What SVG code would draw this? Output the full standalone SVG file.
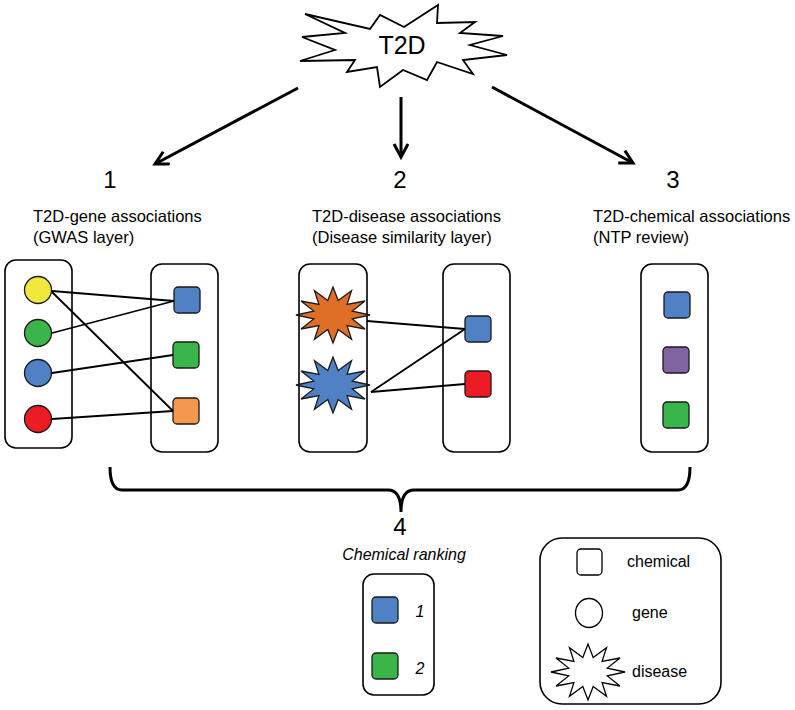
<svg xmlns="http://www.w3.org/2000/svg" width="795" height="710" viewBox="0 0 795 710">
<defs>
<style>
text{font-family:"Liberation Sans",Arial,sans-serif;fill:#000}
.num{font-size:24px;text-anchor:middle}
.hdr{font-size:16.5px}
.box{fill:#fff;stroke:#000;stroke-width:1.6}
.edge{stroke:#000;stroke-width:1.8;fill:none}
.arr{stroke:#000;stroke-width:3;fill:none}
.sq{stroke:#1a1a1a;stroke-width:1.3}
.leg{font-size:16px}
.it{font-style:italic}
</style>
<marker id="ah" markerUnits="userSpaceOnUse" markerWidth="30" markerHeight="30" refX="14" refY="8" orient="auto">
<path d="M1,1 L14,8 L1,15" fill="none" stroke="#000" stroke-width="3"/>
</marker>
<polygon id="star" points="37,0 19.3,3.9 32,14 14.1,10.6 18.5,24.2 5.2,14.5 0,28 -5.2,14.5 -18.5,24.2 -14.1,10.6 -32,14 -19.3,3.9 -37,0 -19.3,-3.9 -32,-14 -14.1,-10.6 -18.5,-24.2 -5.2,-14.5 0,-28 5.2,-14.5 18.5,-24.2 14.1,-10.6 32,-14 19.3,-3.9"/>
</defs>
<rect width="795" height="710" fill="#fff"/>

<g id="t2d">
<polygon points="305,14 370,29 380,15 404,27 438,5 437,23 475,22 460,33 503,36 470,45 507,55 463,60 473,74 437,62 427,80 403,70 380,87 377,67 347,72 355,60 300,61 335,50 302,37 345,33" fill="#fff" stroke="#000" stroke-width="1.8" stroke-linejoin="miter"/>
<text x="402" y="54" font-size="25" text-anchor="middle">T2D</text>
</g>

<g id="labels">
<text class="num" x="110" y="188">1</text>
<text class="num" x="400" y="188">2</text>
<text class="num" x="673" y="188">3</text>
<text class="hdr" x="33" y="222">T2D-gene associations</text>
<text class="hdr" x="33" y="243">(GWAS layer)</text>
<text class="hdr" x="312" y="222">T2D-disease associations</text>
<text class="hdr" x="312" y="243">(Disease similarity layer)</text>
<text class="hdr" x="593" y="222">T2D-chemical associations</text>
<text class="hdr" x="593" y="243">(NTP review)</text>
<text class="num" x="400" y="535">4</text>
<text class="it" x="404" y="560" font-size="16" text-anchor="middle">Chemical ranking</text>
</g>

<g id="genes">
<rect class="box" x="5" y="260" width="67" height="188" rx="11"/>
<circle cx="38" cy="290" r="13.5" fill="#f0e93c" stroke="#1a1a1a" stroke-width="1.3"/>
<circle cx="38" cy="333" r="13.5" fill="#3ab54a" stroke="#1a1a1a" stroke-width="1.3"/>
<circle cx="38" cy="373" r="13.5" fill="#4f81c4" stroke="#1a1a1a" stroke-width="1.3"/>
<circle cx="38" cy="419" r="13.5" fill="#ed1c24" stroke="#1a1a1a" stroke-width="1.3"/>
</g>

<g id="gene-chemicals">
<rect class="box" x="151" y="264" width="67" height="188" rx="11"/>
<rect class="sq" x="174" y="287" width="26" height="26" rx="4" fill="#4f81c4"/>
<rect class="sq" x="173" y="342" width="26" height="26" rx="4" fill="#3ab54a"/>
<rect class="sq" x="173" y="398" width="26" height="26" rx="4" fill="#f3984c"/>
</g>

<g id="diseases">
<rect class="box" x="299" y="264" width="68" height="188" rx="11"/>
<use href="#star" transform="translate(333,315)" fill="#df6f27" stroke="#1a1a1a" stroke-width="1.3"/>
<use href="#star" transform="translate(333,385)" fill="#4f81c4" stroke="#1a1a1a" stroke-width="1.3"/>
</g>

<g id="disease-chemicals">
<rect class="box" x="443" y="264" width="67" height="188" rx="11"/>
<rect class="sq" x="465" y="316" width="26" height="26" rx="4" fill="#4f81c4"/>
<rect class="sq" x="465" y="371" width="26" height="26" rx="4" fill="#ed1c24"/>
</g>

<g id="ntp-chemicals">
<rect class="box" x="641" y="264" width="67" height="188" rx="11"/>
<rect class="sq" x="664" y="292" width="26" height="26" rx="4" fill="#4f81c4"/>
<rect class="sq" x="663" y="347" width="26" height="26" rx="4" fill="#8064a2"/>
<rect class="sq" x="663" y="402" width="26" height="26" rx="4" fill="#3ab54a"/>
</g>

<g id="ranking">
<rect class="box" x="363" y="574" width="71" height="121" rx="11"/>
<rect class="sq" x="372" y="597" width="26" height="26" rx="4" fill="#4f81c4"/>
<rect class="sq" x="372" y="653" width="26" height="26" rx="4" fill="#3ab54a"/>
<text class="it" x="420" y="617" font-size="16" text-anchor="middle">1</text>
<text class="it" x="420" y="674" font-size="16" text-anchor="middle">2</text>
</g>

<g id="legend">
<rect class="box" x="540" y="538" width="181" height="166" rx="22"/>
<rect x="577" y="549" width="25" height="26" rx="4" fill="#fff" stroke="#000" stroke-width="1.3"/>
<text class="leg" x="627" y="567">chemical</text>
<ellipse cx="589" cy="613" rx="13.5" ry="14.5" fill="#fff" stroke="#000" stroke-width="1.3"/>
<text class="leg" x="632" y="618">gene</text>
<use href="#star" transform="translate(588,672)" fill="#fff" stroke="#000" stroke-width="1.3"/>
<text class="leg" x="632" y="677">disease</text>
</g>

<g id="connectors">
<line class="arr" x1="298" y1="88" x2="155" y2="164" marker-end="url(#ah)"/>
<line class="arr" x1="401" y1="97" x2="401" y2="157" marker-end="url(#ah)"/>
<line class="arr" x1="492" y1="87" x2="633" y2="163" marker-end="url(#ah)"/>
<line class="edge" x1="52" y1="291" x2="174" y2="301"/>
<line class="edge" x1="52" y1="292" x2="173" y2="411"/>
<line class="edge" x1="52" y1="333" x2="174" y2="301"/>
<line class="edge" x1="52" y1="373" x2="173" y2="355"/>
<line class="edge" x1="52" y1="419" x2="173" y2="411"/>
<line class="edge" x1="367" y1="321" x2="465" y2="329"/>
<line class="edge" x1="371" y1="392" x2="465" y2="329"/>
<line class="edge" x1="371" y1="392" x2="465" y2="384"/>
<path d="M110,467 Q110,490 122,490 L388,490 Q401,490 401,512 Q401,490 414,490 L678,490 Q690,490 690,467" class="arr"/>
</g>
</svg>
